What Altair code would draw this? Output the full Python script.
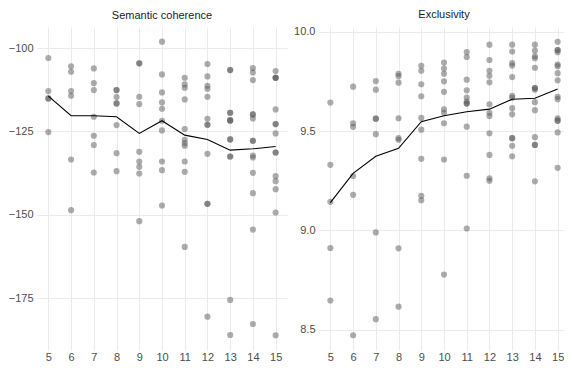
import altair as alt
import pandas as pd

# Number of topics K (x axis)
K_VALUES = [5, 6, 7, 8, 9, 10, 11, 12, 13, 14, 15]

# Per-topic semantic coherence for each K
SEM_5 = [-103.0, -112.9, -115.1, -115.1, -125.2]
SEM_6 = [-105.5, -107.1, -112.9, -114.3, -133.4, -148.6]
SEM_7 = [-106.1, -110.5, -112.6, -120.6, -126.3, -129.1, -137.3]
SEM_8 = [-112.6, -112.6, -114.7, -116.6, -116.6, -123.1, -131.5, -136.9]
SEM_9 = [-104.6, -104.6, -114.6, -116.8, -131.1, -134.0, -135.6, -137.6, -151.9]
SEM_10 = [-98.1, -107.9, -113.3, -116.3, -118.2, -121.8, -124.7, -134.0, -136.6, -147.2]
SEM_11 = [-108.9, -110.9, -111.9, -115.4, -124.3, -127.5, -128.5, -129.3, -134.0, -137.1, -159.6]
SEM_12 = [-104.8, -108.5, -111.3, -112.2, -114.6, -121.2, -123.0, -123.0, -131.7, -146.7, -146.7, -180.5]
SEM_13 = [-106.6, -106.6, -119.4, -119.4, -121.7, -121.7, -121.7, -127.4, -127.4, -132.5, -132.5, -175.5, -186.0]
SEM_14 = [-106.0, -107.3, -109.6, -119.9, -119.9, -121.1, -127.8, -127.8, -132.2, -132.8, -137.4, -143.5, -154.4, -182.7]
SEM_15 = [-106.9, -108.9, -108.9, -108.9, -118.4, -122.8, -122.8, -125.6, -131.3, -131.3, -138.4, -139.9, -142.3, -149.3, -186.1]

# Per-topic exclusivity for each K
EXC_5 = [9.643, 9.330, 9.144, 8.912, 8.648]
EXC_6 = [9.723, 9.539, 9.521, 9.274, 9.179, 8.473]
EXC_7 = [9.751, 9.708, 9.562, 9.562, 9.484, 8.990, 8.554]
EXC_8 = [9.788, 9.776, 9.743, 9.564, 9.464, 9.456, 8.910, 8.617]
EXC_9 = [9.828, 9.803, 9.735, 9.675, 9.566, 9.507, 9.360, 9.174, 9.152]
EXC_10 = [9.844, 9.814, 9.788, 9.750, 9.697, 9.609, 9.592, 9.539, 9.357, 8.778]
EXC_11 = [9.897, 9.872, 9.758, 9.705, 9.668, 9.648, 9.638, 9.638, 9.522, 9.275, 9.010]
EXC_12 = [9.934, 9.857, 9.803, 9.778, 9.745, 9.634, 9.592, 9.575, 9.489, 9.380, 9.262, 9.250]
EXC_13 = [9.934, 9.900, 9.841, 9.829, 9.771, 9.677, 9.667, 9.615, 9.584, 9.464, 9.464, 9.426, 9.373]
EXC_14 = [9.934, 9.904, 9.876, 9.866, 9.818, 9.716, 9.716, 9.708, 9.645, 9.605, 9.469, 9.430, 9.430, 9.247]
EXC_15 = [9.949, 9.907, 9.907, 9.896, 9.834, 9.826, 9.791, 9.755, 9.672, 9.660, 9.564, 9.552, 9.552, 9.493, 9.315]

# Mean lines
SEM_MEAN = [-114.4, -120.3, -120.3, -120.6, -125.6, -121.8, -126.1, -127.4, -130.6, -130.2, -129.5]
EXC_MEAN = [9.140, 9.287, 9.373, 9.413, 9.547, 9.577, 9.597, 9.610, 9.660, 9.665, 9.711]

SEM_ALL = [SEM_5, SEM_6, SEM_7, SEM_8, SEM_9, SEM_10, SEM_11, SEM_12, SEM_13, SEM_14, SEM_15]
EXC_ALL = [EXC_5, EXC_6, EXC_7, EXC_8, EXC_9, EXC_10, EXC_11, EXC_12, EXC_13, EXC_14, EXC_15]

FONT = "Liberation Sans"


def points_df(groups):
    rows = []
    for k, vals in zip(K_VALUES, groups):
        for v in vals:
            rows.append({"K": k, "value": v})
    return pd.DataFrame(rows)


def panel(groups, means, title, domain, ticks, fmt):
    pts = points_df(groups)
    mean_df = pd.DataFrame({"K": K_VALUES, "value": means})
    x = alt.X(
        "K:Q",
        scale=alt.Scale(domain=[4.5, 15.5], nice=False, zero=False),
        axis=alt.Axis(values=K_VALUES, format="d", title=None, grid=True,
                      ticks=False, domain=False, labelPadding=1),
    )
    y = alt.Y(
        "value:Q",
        scale=alt.Scale(domain=domain, nice=False, zero=False),
        axis=alt.Axis(values=ticks, format=fmt, title=None, grid=True,
                      ticks=False, domain=False, labelPadding=4),
    )
    p = alt.Chart(pts).mark_circle(size=38, color="#5a5a5a", opacity=0.5).encode(x=x, y=y)
    l = alt.Chart(mean_df).mark_line(color="black", strokeWidth=1.1).encode(x=x, y=y)
    return alt.layer(p, l).properties(
        width=250, height=323,
        title=alt.TitleParams(title, fontSize=11, font=FONT, fontWeight="normal",
                              color="#1a1a1a", offset=6),
    )


left = panel(SEM_ALL, SEM_MEAN, "Semantic coherence", [-190.5, -93.7],
             [-175, -150, -125, -100], "d")
right = panel(EXC_ALL, EXC_MEAN, "Exclusivity", [8.399, 10.023],
              [8.5, 9.0, 9.5, 10.0], ".1f")

chart = alt.hconcat(left, right, spacing=6).properties(
    padding={"top": 0, "left": 0, "right": -5, "bottom": 0}
).configure_view(stroke=None).configure_axis(
    labelFont=FONT, labelFontSize=11, labelColor="#4d4d4d",
    gridColor="#ebebeb", gridWidth=1,
).configure_title(font=FONT)

chart.save("out.html", embed_options={"renderer": "svg", "actions": False})
